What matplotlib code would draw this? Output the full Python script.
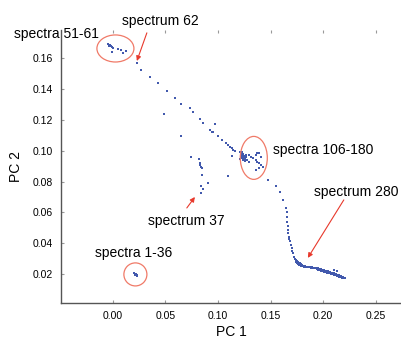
import numpy as np
import matplotlib
matplotlib.use("Agg")
import matplotlib.pyplot as plt
from matplotlib.patches import Ellipse

plt.rcParams['font.family'] = ['Liberation Sans', 'DejaVu Sans']

### Scores ###
# spectra 1-36 (tight blob)
pc1_a = [0.0203, 0.0207, 0.0210, 0.0213, 0.0216, 0.0219, 0.0222, 0.0225, 0.0228, 0.0212, 0.0220]
pc2_a = [0.0205, 0.0203, 0.0201, 0.0200, 0.0198, 0.0197, 0.0195, 0.0193, 0.0191, 0.0196, 0.0201]

# spectra 37-50 (short vertical trail)
pc1_b = [0.0741, 0.0820, 0.0827, 0.0833, 0.0837, 0.0843, 0.0852, 0.0900, 0.0837, 0.0859, 0.0837, 0.1090]
pc2_b = [0.0958, 0.0947, 0.0923, 0.0908, 0.0897, 0.0886, 0.0843, 0.0789, 0.0774, 0.0750, 0.0725, 0.0838]

# spectra 51-61
pc1_c = [-0.0048, -0.0029, -0.0019, -0.0010, 0.0000, -0.0010, 0.0048, 0.0076, 0.0095, 0.0124, -0.0035]
pc2_c = [0.1690, 0.1684, 0.1678, 0.1671, 0.1665, 0.1639, 0.1658, 0.1652, 0.1632, 0.1645, 0.1675]

# spectra 62-105 (diagonal path)
pc1_d = [0.0228, 0.0266, 0.0350, 0.0428, 0.0513, 0.0590, 0.0646, 0.0732, 0.0760, 0.0485,
         0.0646, 0.0827, 0.0856, 0.0970, 0.0920, 0.0940, 0.0955, 0.0998, 0.1036, 0.1080,
         0.1090, 0.1110, 0.1130, 0.1140, 0.1160, 0.1226, 0.1130]
pc2_d = [0.1568, 0.1522, 0.1477, 0.1438, 0.1387, 0.1341, 0.1302, 0.1277, 0.1250, 0.1238,
         0.1095, 0.1205, 0.1180, 0.1173, 0.1134, 0.1121, 0.1121, 0.1095, 0.1070, 0.1050,
         0.1037, 0.1024, 0.1017, 0.1004, 0.0998, 0.0992, 0.0966]

# spectra 106-180
pc1_e = [0.1210, 0.1215, 0.1220, 0.1225, 0.1230, 0.1235, 0.1240, 0.1245, 0.1250, 0.1255,
         0.1260, 0.1228, 0.1238, 0.1248, 0.1258, 0.1265, 0.1218, 0.1232, 0.1242, 0.1252,
         0.1262, 0.1270, 0.1212, 0.1296, 0.1312, 0.1328, 0.1359, 0.1375, 0.1391, 0.1407,
         0.1359, 0.1375, 0.1391, 0.1407, 0.1423, 0.1359, 0.1391, 0.1296, 0.1280]
pc2_e = [0.0990, 0.0975, 0.0968, 0.0980, 0.0960, 0.0972, 0.0955, 0.0965, 0.0950, 0.0962,
         0.0945, 0.0950, 0.0942, 0.0938, 0.0955, 0.0970, 0.0958, 0.0985, 0.0978, 0.0932,
         0.0940, 0.0960, 0.0945, 0.0972, 0.0961, 0.0951, 0.0972, 0.0983, 0.0987, 0.0961,
         0.0940, 0.0929, 0.0919, 0.0908, 0.0897, 0.0875, 0.0886, 0.0929, 0.0940]

# spectra 181-280 (descending curve)
pc1_f = [0.1477, 0.1550, 0.1587, 0.1620, 0.1645, 0.1652, 0.1657, 0.1660, 0.1663, 0.1667,
         0.1670, 0.1673, 0.1676, 0.1680, 0.1690, 0.1700, 0.1705, 0.1712, 0.1720, 0.1728, 0.1737]
pc2_f = [0.0811, 0.0774, 0.0735, 0.0680, 0.0627, 0.0600, 0.0573, 0.0541, 0.0515, 0.0487,
         0.0465, 0.0444, 0.0428, 0.0412, 0.0390, 0.0369, 0.0350, 0.0335, 0.0314, 0.0298, 0.0282]

# spectra 280 onward (dense band)
pc1_g = [0.1740, 0.1745, 0.1750, 0.1755, 0.1760, 0.1765, 0.1770, 0.1775, 0.1780, 0.1785,
         0.1790, 0.1795, 0.1800, 0.1810, 0.1820, 0.1830, 0.1840, 0.1850, 0.1860, 0.1870,
         0.1880, 0.1890, 0.1900, 0.1910, 0.1920, 0.1930, 0.1940, 0.1950, 0.1955, 0.1960,
         0.1970, 0.1975, 0.1980, 0.1990, 0.2000, 0.2005, 0.2010, 0.2020, 0.2030, 0.2035,
         0.2040, 0.2050, 0.2060, 0.2065, 0.2070, 0.2080, 0.2090, 0.2100, 0.2105, 0.2110,
         0.2120, 0.2125, 0.2130, 0.2140, 0.2150, 0.2155, 0.2160, 0.2170, 0.2175, 0.2180,
         0.2190, 0.2200, 0.2208, 0.2100, 0.2130]
pc2_g = [0.0290, 0.0280, 0.0272, 0.0285, 0.0268, 0.0278, 0.0262, 0.0272, 0.0258, 0.0266,
         0.0255, 0.0262, 0.0252, 0.0255, 0.0250, 0.0253, 0.0247, 0.0250, 0.0244, 0.0248,
         0.0242, 0.0245, 0.0240, 0.0243, 0.0238, 0.0240, 0.0235, 0.0238, 0.0228, 0.0233,
         0.0226, 0.0234, 0.0222, 0.0230, 0.0220, 0.0228, 0.0216, 0.0224, 0.0212, 0.0220,
         0.0210, 0.0218, 0.0205, 0.0213, 0.0202, 0.0210, 0.0200, 0.0206, 0.0195, 0.0202,
         0.0192, 0.0199, 0.0188, 0.0195, 0.0185, 0.0192, 0.0182, 0.0188, 0.0178, 0.0185,
         0.0180, 0.0177, 0.0176, 0.0228, 0.0222]

pc1 = np.concatenate([pc1_a, pc1_b, pc1_c, pc1_d, pc1_e, pc1_f, pc1_g])
pc2 = np.concatenate([pc2_a, pc2_b, pc2_c, pc2_d, pc2_e, pc2_f, pc2_g])

xticks = [0.00, 0.05, 0.10, 0.15, 0.20, 0.25]
yticks = [0.02, 0.04, 0.06, 0.08, 0.10, 0.12, 0.14, 0.16]

ring_col = '#f07a68'
arrow_col = '#e8392c'


def main():
    fig = plt.figure(figsize=(4.01, 3.38), dpi=100)
    ax = fig.add_axes([0.152, 0.104, 0.848, 0.807])

    ax.scatter(pc1, pc2, s=2.5, marker='s', color='#4259ad', linewidths=0)

    ax.set_xlim(-0.0494, 0.274)
    ax.set_ylim(0.0015, 0.178)
    ax.set_xticks(xticks)
    ax.set_xticklabels([f"{v:.2f}" for v in xticks])
    ax.set_yticks(yticks)
    ax.set_yticklabels([f"{v:.2f}" for v in yticks])
    ax.tick_params(direction='in', length=2, color='#999999', labelsize=7.5, pad=6)
    ax.tick_params(axis='x', top=True)
    for s in ['top', 'right']:
        ax.spines[s].set_visible(False)
    for s in ['left', 'bottom']:
        ax.spines[s].set_color('#555555')
        ax.spines[s].set_linewidth(1.0)

    ax.set_xlabel('PC 1', fontsize=10, labelpad=3)
    ax.set_ylabel('PC 2', fontsize=10, labelpad=7)

    ### rings ###
    for cx, cy, w, h in [(0.0024, 0.1661, 0.0352, 0.0175),
                         (0.1340, 0.0953, 0.0257, 0.0278),
                         (0.0214, 0.0199, 0.0219, 0.0149)]:
        ax.add_patch(Ellipse((cx, cy), w, h, fill=False, edgecolor=ring_col, lw=0.9))

    ### labels and arrows ###
    kw = dict(fontsize=10, annotation_clip=False)
    ax.annotate('spectra 51-61', xy=(-0.0537, 0.1755), ha='center', va='center', **kw)
    ax.annotate('spectrum 62', xy=(0.0447, 0.1840), ha='center', va='center', **kw)
    ax.annotate('spectra 106-180', xy=(0.1520, 0.1005), ha='left', va='center', **kw)
    ax.annotate('spectrum 37', xy=(0.0699, 0.0545), ha='center', va='center', **kw)
    ax.annotate('spectrum 280', xy=(0.2310, 0.0733), ha='center', va='center', **kw)
    ax.annotate('spectra 1-36', xy=(0.0195, 0.0338), ha='center', va='center', **kw)

    ap = dict(arrowstyle='-|>', color=arrow_col, lw=0.8, mutation_scale=7,
              shrinkA=0, shrinkB=0)
    ax.annotate('', xy=(0.0228, 0.1580), xytext=(0.0323, 0.1762), arrowprops=ap,
                annotation_clip=False)
    ax.annotate('', xy=(0.0780, 0.0700), xytext=(0.0703, 0.0629), arrowprops=ap)
    ax.annotate('', xy=(0.1854, 0.0306), xytext=(0.2196, 0.0681), arrowprops=ap)

    fig.savefig('out.png', dpi=100)


if __name__ == "__main__":
    main()
